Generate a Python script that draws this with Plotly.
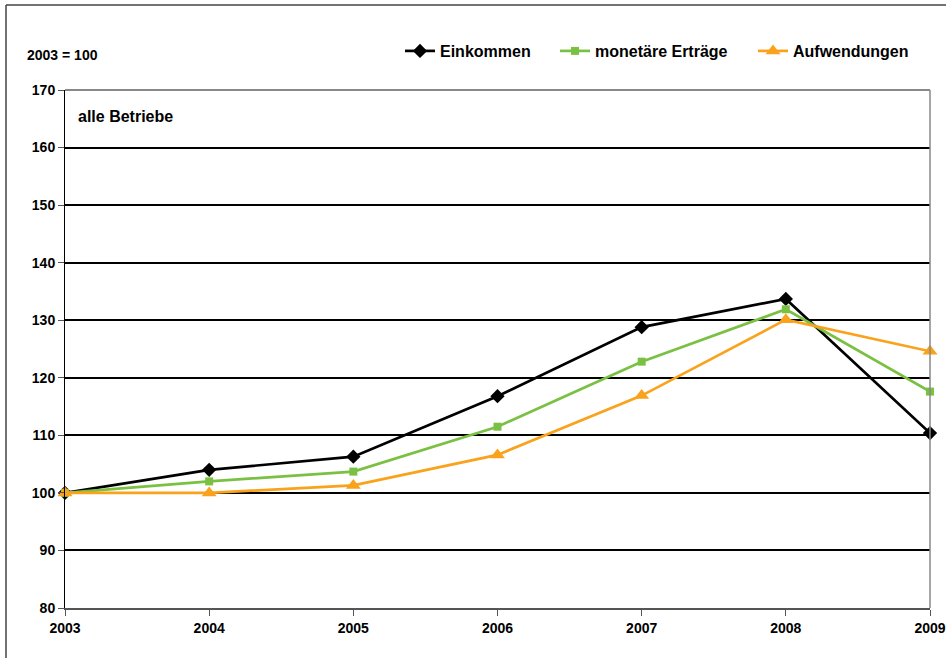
import plotly.graph_objects as go

# Index values, 2003 = 100
years = [2003, 2004, 2005, 2006, 2007, 2008, 2009]
einkommen = [100.0, 104.0, 106.3, 116.8, 128.8, 133.7, 110.4]
monetaere_ertraege = [100.0, 102.0, 103.7, 111.5, 122.8, 131.9, 117.6]
aufwendungen = [100.0, 100.0, 101.3, 106.6, 116.9, 130.1, 124.6]

series_names = ["Einkommen", "monetäre Erträge", "Aufwendungen"]
y_ticks = [80, 90, 100, 110, 120, 130, 140, 150, 160, 170]

FONT = "Liberation Sans, Arial, sans-serif"

L, R, T, B = 65, 16, 90, 50
W, H = 946, 658
pw, ph = W - L - R, H - T - B


def px_x(x):
    return (x - L) / pw


def px_y(y):
    return (H - B - y) / ph


fig = go.Figure()

styles = [
    (einkommen, "#000000", "diamond", 11, "legend", 400),
    (monetaere_ertraege, "#7AC143", "square", 8, "legend2", 555),
    (aufwendungen, "#FAA21B", "triangle-up", 13, "legend3", 753),
]
legend_layouts = {}
for name, (vals, col, sym, size, leg, lx) in zip(series_names, styles):
    fig.add_trace(go.Scatter(
        x=years, y=vals, name=name, mode="lines+markers",
        line=dict(color=col, width=2.7),
        marker=dict(symbol=sym, size=size, color=col, line=dict(width=0)),
        cliponaxis=False, hoverinfo="skip", legend=leg,
    ))
    legend_layouts[leg] = dict(
        orientation="h", x=px_x(lx), xanchor="left",
        y=px_y(51), yanchor="middle",
        font=dict(family=FONT, size=16, color="#000000", weight="bold"),
        bgcolor="rgba(0,0,0,0)", itemclick=False, itemdoubleclick=False,
    )

fig.update_layout(
    width=W, height=H,
    margin=dict(l=L, r=R, t=T, b=B, autoexpand=False),
    paper_bgcolor="white", plot_bgcolor="white",
    font=dict(family=FONT, size=14, color="#000000", weight="bold"),
    showlegend=True,
    **legend_layouts,
    xaxis=dict(
        range=[2003, 2009], tickvals=years, ticktext=[str(y) for y in years],
        showgrid=False, zeroline=False,
        showline=True, linecolor="#555555", linewidth=1.5, mirror=False,
        ticks="outside", ticklen=6, tickcolor="#555555", tickwidth=1,
        tickfont=dict(family=FONT, size=14, color="#000000", weight="bold"),
        fixedrange=True,
    ),
    yaxis=dict(
        range=[80, 170], tickvals=y_ticks,
        showgrid=True, gridcolor="#000000", gridwidth=1.5,
        zeroline=False,
        showline=True, linecolor="#000000", linewidth=1, mirror=False,
        ticks="outside", ticklen=6, tickcolor="#555555", tickwidth=1,
        tickfont=dict(family=FONT, size=14, color="#000000", weight="bold"),
        fixedrange=True,
    ),
    annotations=[
        dict(text="2003 = 100", xref="paper", yref="paper",
             x=px_x(25), y=px_y(55), xanchor="left", yanchor="middle",
             showarrow=False,
             font=dict(family=FONT, size=14, color="#000000", weight="bold")),
        dict(text="alle Betriebe", xref="paper", yref="paper",
             x=px_x(76), y=px_y(116), xanchor="left", yanchor="middle",
             showarrow=False,
             font=dict(family=FONT, size=16, color="#000000", weight="bold")),
    ],
    shapes=[
        # gray plot-area frame on top and right
        dict(type="line", xref="paper", yref="paper", x0=0, x1=1, y0=1, y1=1,
             line=dict(color="#888888", width=2), layer="above"),
        dict(type="line", xref="paper", yref="paper", x0=1, x1=1, y0=0, y1=1,
             line=dict(color="#888888", width=1.5), layer="above"),
        # outer chart border
        dict(type="line", xref="paper", yref="paper",
             x0=px_x(6), x1=px_x(W + 10), y0=px_y(5), y1=px_y(5),
             line=dict(color="#444444", width=1.5)),
        dict(type="line", xref="paper", yref="paper",
             x0=px_x(6), x1=px_x(6), y0=px_y(5), y1=px_y(H + 10),
             line=dict(color="#444444", width=1.5)),
    ],
)

fig.write_html("out.html")
